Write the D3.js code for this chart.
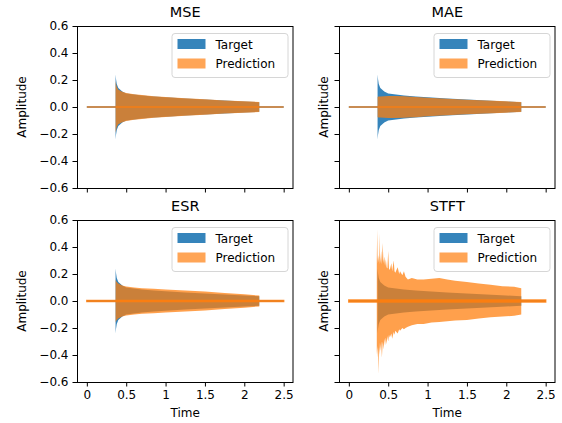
<!DOCTYPE html>
<html>
<head>
<meta charset="utf-8">
<script src="https://cdn.jsdelivr.net/npm/d3@7"></script>
<style>
  body { margin: 0; background: #fff; }
  svg { display: block; font-family: "DejaVu Sans", sans-serif; }
</style>
</head>
<body>
<svg id="vis" width="562" height="423"></svg>
<script>
// panel titles, in reading order
const panelTitles = ["MSE", "MAE", "ESR", "STFT"];
const seriesNames = ["Target", "Prediction"];

// envelope sample times (s)
const envTime = [0.365, 0.37, 0.38, 0.40, 0.45, 0.50, 0.60, 0.70, 0.85, 1.00, 1.25, 1.50, 1.75, 2.00, 2.19];

// target envelope (same target in every panel)
const targetEnv = [0.24, 0.21, 0.17, 0.14, 0.115, 0.10, 0.092, 0.086, 0.078, 0.072, 0.063, 0.055, 0.048, 0.041, 0.036];

// prediction envelopes
const mseEnv = [0.19, 0.175, 0.15, 0.128, 0.113, 0.103, 0.094, 0.088, 0.08, 0.074, 0.065, 0.057, 0.049, 0.042, 0.037];
const maeEnv = [0.075, 0.076, 0.077, 0.078, 0.08, 0.081, 0.082, 0.08, 0.075, 0.069, 0.062, 0.054, 0.048, 0.042, 0.037];
const esrEnv = [0.16, 0.15, 0.14, 0.13, 0.115, 0.107, 0.10, 0.095, 0.09, 0.086, 0.078, 0.07, 0.06, 0.05, 0.04];

// STFT prediction is spiky, so it gets its own time grid and upper / lower edges
const stftTime = [0.355, 0.36, 0.365, 0.37, 0.38, 0.385, 0.39, 0.395, 0.40, 0.41, 0.42, 0.43, 0.44, 0.45, 0.46, 0.47, 0.48, 0.49, 0.50, 0.51, 0.52, 0.54, 0.55, 0.57, 0.58, 0.59, 0.62, 0.64, 0.65, 0.68, 0.70, 0.72, 0.75, 0.80, 0.87, 0.95, 1.05, 1.15, 1.25, 1.35, 1.50, 1.65, 1.80, 1.95, 2.10, 2.19];
const stftUp = [0.30, 0.53, 0.33, 0.28, 0.34, 0.27, 0.50, 0.33, 0.28, 0.37, 0.27, 0.43, 0.28, 0.33, 0.26, 0.31, 0.25, 0.24, 0.37, 0.24, 0.23, 0.28, 0.22, 0.30, 0.22, 0.21, 0.25, 0.20, 0.22, 0.19, 0.22, 0.18, 0.16, 0.17, 0.16, 0.16, 0.165, 0.17, 0.16, 0.15, 0.14, 0.13, 0.12, 0.11, 0.105, 0.095];
const stftLo = [0.40, 0.34, 0.42, 0.33, 0.54, 0.34, 0.40, 0.31, 0.37, 0.30, 0.42, 0.30, 0.36, 0.28, 0.33, 0.27, 0.32, 0.26, 0.30, 0.25, 0.27, 0.24, 0.28, 0.23, 0.25, 0.22, 0.24, 0.21, 0.22, 0.20, 0.21, 0.20, 0.19, 0.18, 0.17, 0.17, 0.16, 0.155, 0.15, 0.145, 0.14, 0.13, 0.12, 0.115, 0.11, 0.10];

// small noise floor of the prediction outside the note
const predFloor = [0, 0, 0.004, 0.008];

// full signal span and axis ticks
const signalSpan = [0, 2.5];
const xTicks = [0, 0.5, 1, 1.5, 2, 2.5];
const xTickLabels = ["0", "0.5", "1", "1.5", "2", "2.5"];
const yTicks = [-0.6, -0.4, -0.2, 0, 0.2, 0.4, 0.6];

const blue = "#1f77b4", orange = "#ff7f0e";

const svg = d3.select("#vis");
const colX = [77, 339], rowY = [26, 220];
const W = 216.5, H = 162;

function pack(t, up, lo) {
  return t.map((d, i) => ({ t: d, up: up[i], lo: lo[i] }));
}

const predData = [
  pack(envTime, mseEnv, mseEnv),
  pack(envTime, maeEnv, maeEnv),
  pack(envTime, esrEnv, esrEnv),
  pack(stftTime, stftUp, stftLo)
];
const targetData = pack(envTime, targetEnv, targetEnv);

panelTitles.forEach((title, i) => {
  const col = i % 2, row = Math.floor(i / 2);
  const g = svg.append("g").attr("transform", `translate(${colX[col]},${rowY[row]})`);

  const x = d3.scaleLinear().domain([-0.125, 2.625]).range([0, W]);
  const y = d3.scaleLinear().domain([-0.6, 0.6]).range([H, 0]);

  const area = d3.area()
    .x(d => x(d.t))
    .y0(d => y(-d.lo))
    .y1(d => y(d.up));

  // target: flat line + envelope
  g.append("line")
    .attr("x1", x(signalSpan[0])).attr("x2", x(signalSpan[1]))
    .attr("y1", y(0)).attr("y2", y(0))
    .attr("stroke", blue).attr("stroke-opacity", 0.9).attr("stroke-width", 1.5);
  g.append("path").datum(targetData)
    .attr("d", area)
    .attr("fill", blue).attr("fill-opacity", 0.9);

  // prediction: flat part + envelope
  const fl = predFloor[i];
  g.append("path")
    .datum([{ t: signalSpan[0], up: fl, lo: fl }, { t: signalSpan[1], up: fl, lo: fl }])
    .attr("d", area)
    .attr("fill", orange).attr("fill-opacity", 0.8)
    .attr("stroke", orange).attr("stroke-opacity", 0.85).attr("stroke-width", 1.5);
  g.append("path").datum(predData[i])
    .attr("d", area)
    .attr("fill", orange).attr("fill-opacity", 0.74);

  // axes
  const yAxis = d3.axisLeft(y).tickValues(yTicks).tickSize(4.5).tickPadding(4)
    .tickFormat(col === 0 ? d3.format(".1f") : "");
  const xAxis = d3.axisBottom(x).tickValues(xTicks).tickSize(4.5).tickPadding(4)
    .tickFormat(row === 1 ? (d, k) => xTickLabels[k] : "");

  g.append("g").call(yAxis)
    .call(a => a.select(".domain").remove())
    .call(a => a.selectAll("text").attr("font-size", 12).attr("fill", "#000").attr("font-family", "DejaVu Sans"));
  g.append("g").attr("transform", `translate(0,${H})`).call(xAxis)
    .call(a => a.select(".domain").remove())
    .call(a => a.selectAll("text").attr("font-size", 12).attr("fill", "#000").attr("font-family", "DejaVu Sans"));

  g.append("rect")
    .attr("x", 0.5).attr("y", 0.5).attr("width", W - 1).attr("height", H)
    .attr("fill", "none").attr("stroke", "#000").attr("stroke-width", 1);

  // title and labels
  g.append("text")
    .attr("x", W / 2).attr("y", -9)
    .attr("text-anchor", "middle").attr("font-size", 14.5).attr("font-weight", "normal")
    .text(title);

  g.append("text")
    .attr("transform", `translate(${col === 0 ? -51 : -11},${H / 2}) rotate(-90)`)
    .attr("text-anchor", "middle").attr("font-size", 12)
    .text("Amplitude");

  if (row === 1) {
    g.append("text")
      .attr("x", W / 2).attr("y", H + 35)
      .attr("text-anchor", "middle").attr("font-size", 12)
      .text("Time");
  }

  // legend
  const lg = g.append("g").attr("transform", `translate(${W - 122},7)`);
  lg.append("rect")
    .attr("x", 0.5).attr("y", 0.5).attr("width", 116).attr("height", 44)
    .attr("rx", 3).attr("fill", "#fff").attr("fill-opacity", 0.8)
    .attr("stroke", "#d6d6d6").attr("stroke-width", 1);
  seriesNames.forEach((name, k) => {
    lg.append("rect")
      .attr("x", 6).attr("y", 6 + k * 19.5).attr("width", 28).attr("height", 10)
      .attr("fill", k === 0 ? blue : orange).attr("fill-opacity", k === 0 ? 0.9 : 0.7);
    lg.append("text")
      .attr("x", 44).attr("y", 15.5 + k * 19.5)
      .attr("font-size", 12)
      .text(name);
  });
});
</script>
</body>
</html>
